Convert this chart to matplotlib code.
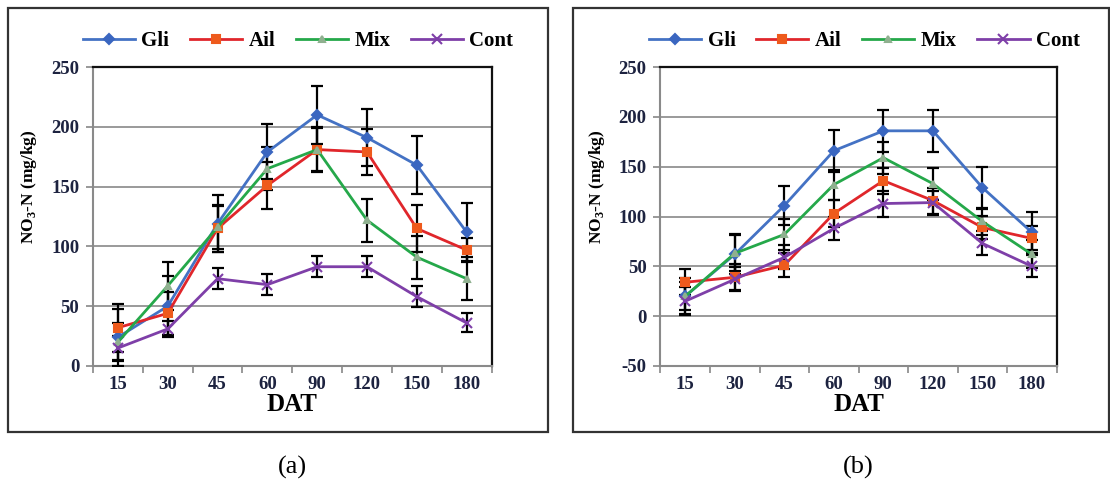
import matplotlib
matplotlib.use('Agg')
import matplotlib.pyplot as plt
from matplotlib.patches import Rectangle
import numpy as np

plt.rcParams['font.family'] = ['Liberation Serif', 'DejaVu Serif']
plt.rcParams['font.weight'] = 'bold'
plt.rcParams['mathtext.fontset'] = 'custom'
plt.rcParams['mathtext.rm'] = 'Liberation Serif:bold'
plt.rcParams['axes.unicode_minus'] = False

days = ['15', '30', '45', '60', '90', '120', '150', '180']
series_names = ['Gli', 'Ail', 'Mix', 'Cont']

# panel (a)
gli_a = [24, 50, 119, 179, 210, 191, 168, 112]
ail_a = [32, 44, 115, 151, 181, 179, 115, 97]
mix_a = [20, 67, 116, 165, 181, 122, 91, 73]
cont_a = [15, 31, 73, 68, 83, 83, 58, 36]
gli_a_err = [24, 25, 24, 23, 24, 24, 24, 24]
ail_a_err = [20, 18, 20, 20, 19, 19, 20, 10]
mix_a_err = [16, 20, 18, 18, 18, 18, 18, 18]
cont_a_err = [10, 7, 9, 9, 9, 9, 9, 8]

# panel (b)
gli_b = [20, 62, 111, 166, 186, 186, 129, 84]
ail_b = [34, 39, 51, 103, 136, 116, 89, 78]
mix_b = [20, 63, 82, 132, 159, 133, 95, 62]
cont_b = [15, 37, 59, 88, 113, 114, 73, 50]
gli_b_err = [18, 20, 20, 21, 21, 21, 21, 21]
ail_b_err = [13, 13, 12, 14, 13, 13, 12, 12]
mix_b_err = [14, 18, 16, 15, 16, 16, 14, 14]
cont_b_err = [14, 12, 12, 12, 13, 12, 12, 11]

colors = ['#4472C4', '#E0262B', '#25A84A', '#7E3FA8']
marker_faces = ['#3A66C0', '#EE5A1C', '#8FB08F', '#7E3FA8']
markers = ['D', 's', '^', 'x']
msizes = [5, 6, 5, 7]

fig = plt.figure(figsize=(11.1, 4.86), dpi=100)

# outer boxes round each panel
for x0, x1 in [(8, 548), (573, 1109)]:
    fig.patches.append(Rectangle((x0 / 1110, 1 - 432 / 486), (x1 - x0) / 1110, 424 / 486,
                                 transform=fig.transFigure, fill=False,
                                 edgecolor='#333333', linewidth=1.6))

ax_a = fig.add_axes([0.0838, 0.247, 0.359, 0.615])
ax_b = fig.add_axes([0.595, 0.247, 0.357, 0.615])

panels = [
    (ax_a, [gli_a, ail_a, mix_a, cont_a], [gli_a_err, ail_a_err, mix_a_err, cont_a_err], (0, 250), '(a)'),
    (ax_b, [gli_b, ail_b, mix_b, cont_b], [gli_b_err, ail_b_err, mix_b_err, cont_b_err], (-50, 250), '(b)'),
]

x = np.arange(len(days))
for ax, vals, errs, ylim, tag in panels:
    for i in range(4):
        ax.errorbar(x, vals[i], yerr=errs[i], fmt='none', ecolor='black',
                    elinewidth=1.6, capsize=4, capthick=1.6, zorder=3)
    for i in range(4):
        ax.plot(x, vals[i], color=colors[i], linewidth=2, marker=markers[i],
                markersize=msizes[i], markerfacecolor=marker_faces[i],
                markeredgecolor=marker_faces[i], markeredgewidth=1.5,
                label=series_names[i], zorder=4)
    ax.set_xlim(-0.5, 7.5)
    ax.set_ylim(*ylim)
    ax.set_yticks(np.arange(ylim[0], 251, 50))
    ax.yaxis.grid(True, color='#9a9a9a', linewidth=1.4)
    ax.set_axisbelow(True)
    ax.set_xticks(np.arange(-0.5, 8, 1))
    ax.set_xticklabels([])
    ax.set_xticks(x, minor=True)
    ax.set_xticklabels(days, minor=True)
    ax.tick_params(axis='x', which='major', direction='out', length=5, color='#888888', width=1.2)
    ax.tick_params(axis='x', which='minor', length=0, pad=7, labelsize=13.5, labelcolor='#1d2340')
    ax.tick_params(axis='y', direction='out', length=5, color='#888888', width=1.2,
                   labelsize=13.5, labelcolor='#1d2340', pad=5)
    for s in ['left', 'bottom']:
        ax.spines[s].set_color('#8a8a8a')
        ax.spines[s].set_linewidth(1.5)
    for s in ['top', 'right']:
        ax.spines[s].set_color('#111111')
        ax.spines[s].set_linewidth(1.6)
    ax.set_xlabel('DAT', fontsize=18, fontweight='bold', labelpad=0)
    ax.set_ylabel(r'NO$_\mathregular{3}$-N (mg/kg)', fontsize=12.5, fontweight='bold')
    ax.yaxis.set_label_coords(-0.135, 0.6)
    ax.legend(loc='lower center', bbox_to_anchor=(0.515, 0.99), ncol=4, frameon=False,
              handlelength=2.5, columnspacing=1.0, handletextpad=0.3,
              prop={'weight': 'bold', 'size': 15})
    ax.text(0.5, -0.34, tag, transform=ax.transAxes, ha='center', va='center',
            fontsize=19, fontweight='normal')

fig.savefig('out.png', dpi=100)
